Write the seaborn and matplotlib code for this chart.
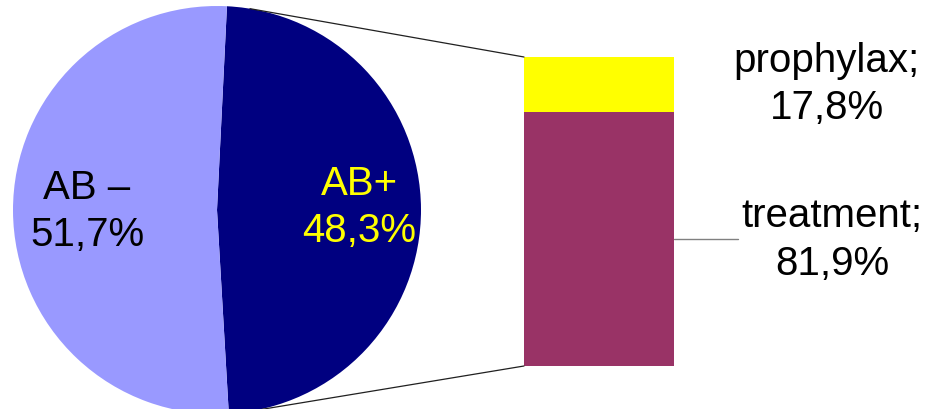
import matplotlib
matplotlib.use("Agg")
import matplotlib.pyplot as plt
from matplotlib.patches import ConnectionPatch
import numpy as np
import seaborn as sns

# Main split: antibiotic use
pie_labels = ["AB+", "AB \u2013"]
pie_values = [48.3, 51.7]
pie_colors = ["#000080", "#9999FF"]
pie_text_colors = ["#FFFF00", "#000000"]

# Breakdown of the AB+ group
bar_labels = ["treatment", "prophylax"]
bar_values = [81.9, 17.8]
bar_colors = ["#993366", "#FFFF00"]

sns.set_theme(style="white")
plt.rcParams["font.family"] = ["Liberation Sans", "DejaVu Sans"]
plt.rcParams["text.color"] = "black"

W, H = 929, 409
fig = plt.figure(figsize=(W / 100, H / 100), dpi=100)
ax = fig.add_axes([0, 0, 1, 1])

cx, cy, r = 217, 199, 204
start = 87.2
wedges, _ = ax.pie(pie_values, colors=sns.color_palette(pie_colors),
                   center=(cx, cy), radius=r, startangle=start,
                   counterclock=False, frame=True,
                   wedgeprops=dict(linewidth=0))
ax.set_xlim(0, W)
ax.set_ylim(0, H)
ax.set_aspect("equal")
ax.axis("off")

# slice labels
label_pos = [(359, 201), (87, 197)]
for lab, val, col, (lx, ly) in zip(pie_labels, pie_values, pie_text_colors, label_pos):
    ax.text(lx, ly, f"{lab}\n{val:.1f}%".replace(".", ","), color=col,
            fontsize=29, ha="center", va="center", linespacing=1.3)

# stacked bar for the AB+ breakdown
bx0, by0, bw, bh = 524, 43, 150, 309
bax = fig.add_axes([bx0 / W, by0 / H, bw / W, bh / H])
bottom = 0
for v, c in zip(bar_values, bar_colors):
    bax.bar(0, v, width=1, bottom=bottom, color=c, linewidth=0)
    bottom += v
bax.set_xlim(-0.5, 0.5)
bax.set_ylim(0, sum(bar_values))
bax.axis("off")

# connectors from the pie edge to the bar corners
for ang, yb in [(80.7, sum(bar_values)), (-80.6, 0)]:
    px = cx + r * np.cos(np.radians(ang))
    py = cy + r * np.sin(np.radians(ang))
    con = ConnectionPatch(xyA=(px, py), coordsA=ax.transData,
                          xyB=(-0.5, yb), coordsB=bax.transData,
                          color="#202020", linewidth=0.9)
    fig.add_artist(con)

# bar labels
ax.text(827, 324, f"{bar_labels[1]};\n{bar_values[1]:.1f}%".replace(".", ","),
        color="black", fontsize=29, ha="center", va="center", linespacing=1.3)
ax.text(832, 169, f"{bar_labels[0]};\n{bar_values[0]:.1f}%".replace(".", ","),
        color="black", fontsize=29, ha="center", va="center", linespacing=1.3)
ax.plot([674, 738], [170, 170], color="#808080", linewidth=1)

fig.savefig("out.png", dpi=100)
